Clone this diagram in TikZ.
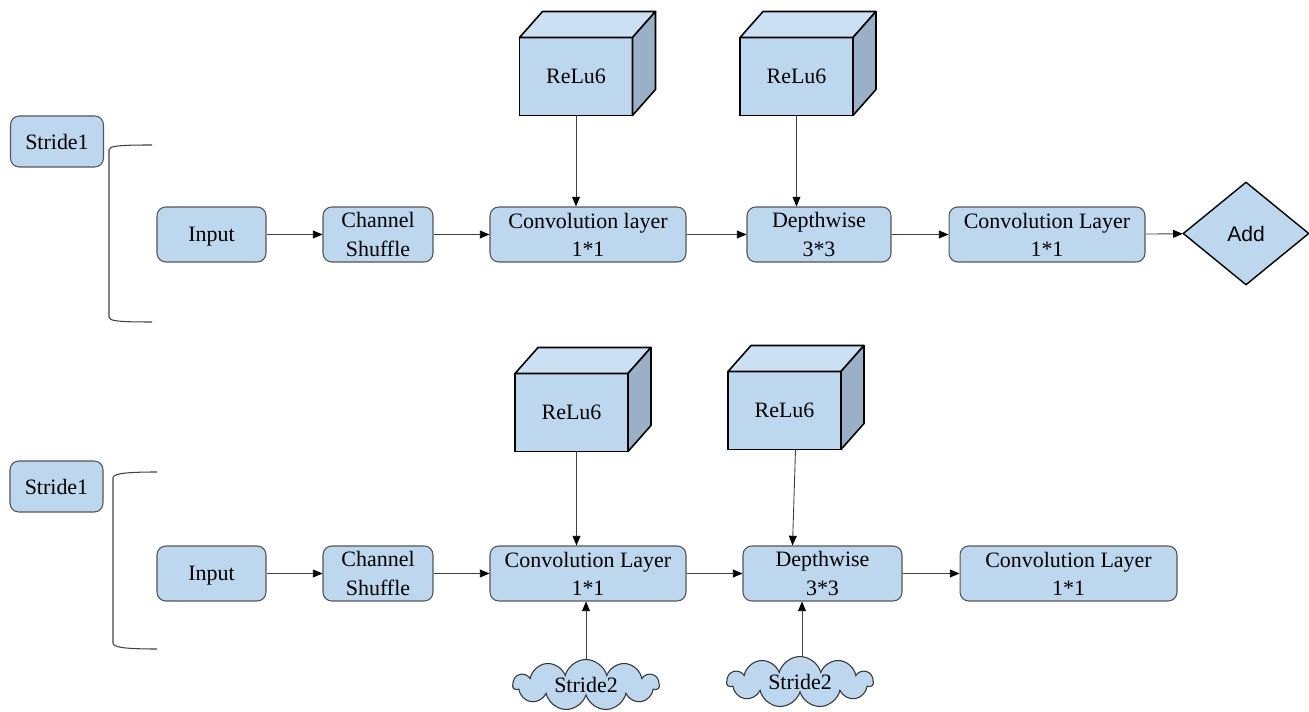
\documentclass[tikz,border=0pt]{standalone}
\usepackage{fontspec}
\setmainfont{Liberation Serif}
\newfontfamily\addfont{Liberation Sans}
\usetikzlibrary{arrows.meta, shapes.geometric, shapes.symbols, calc}

\definecolor{boxblue}{RGB}{189,215,238}
\definecolor{topblue}{RGB}{204,224,243}
\definecolor{sideblue}{RGB}{154,176,198}
\definecolor{edgegray}{RGB}{85,85,85}

\begin{document}
\begin{tikzpicture}[
        x=0.02cm, y=-0.02cm,
        font=\fontsize{12.5}{16}\selectfont,
        block/.style={rectangle, rounded corners=5pt, draw=edgegray, fill=boxblue, line width=0.6pt, align=center, inner sep=1pt, minimum height=1.1cm},
        stridebox/.style={block, minimum width=1.86cm, minimum height=1.02cm},
        inbox/.style={block, minimum width=2.18cm, text depth=0pt},
        relu/.style={rectangle, draw=black, fill=boxblue, line width=0.9pt, outer sep=0pt, minimum width=2.26cm, minimum height=1.56cm},
        face/.style={draw=black, line width=0.9pt, line join=round},
        cloudy/.style={cloud, cloud puffs=11, aspect=3, draw=black!80, fill=boxblue, line width=0.6pt, minimum width=2.92cm, minimum height=1.02cm, inner sep=0pt},
        adder/.style={diamond, draw=black, fill=boxblue, line width=0.8pt, minimum width=2.52cm, minimum height=2.06cm, inner sep=0pt, font=\addfont\fontsize{12}{14}\selectfont},
        arr/.style={draw=black!75, line width=0.5pt, -{Triangle[length=5.5pt, width=4.5pt, color=black]}},
        brace/.style={draw=black!75, line width=0.6pt}
    ]
    \useasboundingbox (0,0) rectangle (1309,712);

    % Stride 1 row
    \node[stridebox] (strA) at (57,141.5) {Stride1};
    \draw[brace] (152,145) .. controls (118,145) and (109,146) .. (109,150) -- (109,317) .. controls (109,321) and (118,322) .. (152,322);
    \node[inbox] (inA) at (211.5,234.5) {Input};
    \node[block, minimum width=2.2cm] (shufA) at (378,234.5) {Channel\\Shuffle};
    \node[block, minimum width=3.92cm] (convA) at (588,234.5) {Convolution layer\\1*1};
    \node[block, minimum width=2.88cm] (dwA) at (819,234.5) {Depthwise\\3*3};
    \node[block, minimum width=3.92cm] (pwA) at (1047,234.5) {Convolution Layer\\1*1};
    \node[adder] (addA) at (1246,233.5) {Add};
    \node[relu] (reluA) at (576,76.5) {ReLu6};
    \node[relu] (reluB) at (796.5,76.5) {ReLu6};

    % Stride 2 row
    \node[stridebox] (strB) at (56.5,486.5) {Stride1};
    \draw[brace] (157,472) .. controls (122,472) and (113,474) .. (113,478) -- (113,643) .. controls (113,647) and (122,649) .. (157,649);
    \node[inbox] (inB) at (211.5,573.5) {Input};
    \node[block, minimum width=2.2cm] (shufB) at (378,573.5) {Channel\\Shuffle};
    \node[block, minimum width=3.92cm] (convB) at (588,573.5) {Convolution Layer\\1*1};
    \node[block, minimum width=3.18cm] (dwB) at (822.5,573.5) {Depthwise\\3*3};
    \node[block, minimum width=4.34cm] (pwB) at (1068.5,573.5) {Convolution Layer\\1*1};
    \node[relu] (reluC) at (571.5,412.5) {ReLu6};
    \node[relu] (reluD) at (784.5,410.5) {ReLu6};
    \node[cloudy] (cloudA) at (586,685) {Stride2};
    \node[cloudy] (cloudB) at (800,682) {Stride2};

    % cube faces
    \foreach \c in {reluA,reluB,reluC,reluD}{
        \filldraw[face, fill=topblue] (\c.north west) -- ++(23,-26) -- ($(\c.north east)+(23,-26)$) -- (\c.north east) -- cycle;
        \filldraw[face, fill=sideblue] (\c.north east) -- ++(23,-26) -- ($(\c.south east)+(23,-26)$) -- (\c.south east) -- cycle;
    }

    % connectors
    \draw[arr] (inA) -- (shufA);
    \draw[arr] (shufA) -- (convA);
    \draw[arr] (convA) -- (dwA);
    \draw[arr] (dwA) -- (pwA);
    \draw[arr] (pwA) -- (addA);
    \draw[arr] (reluA.south) -- (reluA.south |- convA.north);
    \draw[arr] (reluB.south) -- (reluB.south |- dwA.north);

    \draw[arr] (inB) -- (shufB);
    \draw[arr] (shufB) -- (convB);
    \draw[arr] (convB) -- (dwB);
    \draw[arr] (dwB) -- (pwB);
    \draw[arr] ([xshift=0.1cm]reluC.south) -- ([xshift=0.1cm]reluC.south |- convB.north);
    \draw[arr] ([xshift=0.22cm]reluD.south) -- ([xshift=0.16cm]reluD.south |- dwB.north);
    \draw[arr] (cloudA.north) -- (cloudA.north |- convB.south);
    \draw[arr] ([xshift=0.04cm]cloudB.north) -- ([xshift=0.04cm]cloudB.north |- dwB.south);
\end{tikzpicture}
\end{document}
